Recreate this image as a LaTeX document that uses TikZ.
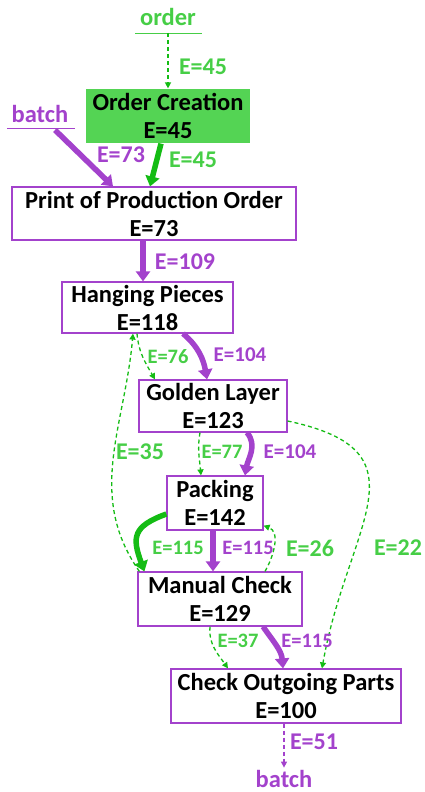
\documentclass[tikz,border=0pt]{standalone}
\usepackage{fontspec}
\setmainfont{Carlito}
\usetikzlibrary{arrows.meta,calc}
\definecolor{procpurple}{RGB}{163,66,204}
\definecolor{flowgreen}{RGB}{20,188,20}
\definecolor{lblgreen}{RGB}{70,206,70}
\definecolor{boxgreen}{RGB}{84,212,84}

\begin{document}
\begin{tikzpicture}[x=1pt, y=1pt,
  activity/.style={draw=procpurple, line width=1.2pt, fill=white, align=center,
    inner sep=0pt, font=\fontsize{24.5}{28}\selectfont\bfseries},
  source/.style={font=\fontsize{24.5}{28}\selectfont\bfseries, inner sep=2pt},
  big/.style={font=\fontsize{24}{28}\selectfont\bfseries},
  mid/.style={font=\fontsize{21}{24}\selectfont\bfseries},
  small/.style={font=\fontsize{20.5}{24}\selectfont\bfseries},
  objflow/.style={line width=5.5pt, -{Triangle[length=10pt,width=14pt]}},
  rareflow/.style={line width=1.3pt, dash pattern=on 4pt off 3pt,
    -{Triangle[length=6pt,width=6pt]}}
]
\useasboundingbox (0,0) rectangle (424,-792);
\node[source, text=lblgreen, anchor=base] (order) at (168,-26) {order};
\node[source, text=procpurple, anchor=base] (batchin) at (40,-122) {batch};
\node[source, text=procpurple, anchor=base] (batchout) at (284,-787) {batch};
\coordinate (orderfoot) at ($(order.base)+(0,-7)$);
\coordinate (batchfoot) at ($(batchin.base)+(15,-8)$);
\draw[lblgreen, line width=0.8pt] ($(order.base)+(-33,-7)$) -- ($(order.base)+(34,-7)$);
\draw[procpurple, line width=0.8pt] ($(batchin.base)+(-33,-6)$) -- ($(batchin.base)+(35,-6)$);

\node[activity, draw=none, fill=boxgreen, minimum width=164, minimum height=54]
  (occ) at (168,-116) {Order Creation\\E=45};
\node[activity, minimum width=284, minimum height=53]
  (ppo) at (154,-213.5) {Print of Production Order\\E=73};
\node[activity, minimum width=171, minimum height=51]
  (hang) at (147.5,-307.5) {Hanging Pieces\\E=118};
\node[activity, minimum width=148, minimum height=52]
  (gold) at (213,-406) {Golden Layer\\E=123};
\node[activity, minimum width=96, minimum height=54]
  (pack) at (215,-503) {Packing\\E=142};
\node[activity, minimum width=164, minimum height=54]
  (manual) at (220,-599) {Manual Check\\E=129};
\node[activity, minimum width=230, minimum height=54]
  (cop) at (286,-696) {Check Outgoing Parts\\E=100};

\draw[rareflow, flowgreen] (orderfoot) -- (occ.north);
\draw[objflow, flowgreen] ([xshift=-7]occ.south) -- ([xshift=-4]ppo.north);
\draw[objflow, procpurple] (batchfoot) -- ([xshift=-41]ppo.north);
\draw[objflow, procpurple] ([xshift=-11]ppo.south) -- ([xshift=-4.5]hang.north);
\draw[objflow, procpurple] ([xshift=35.5]hang.south) to[out=-40, in=100] ([xshift=-6]gold.north);
\draw[rareflow, flowgreen] ([xshift=-10.5]hang.south) to[out=-85, in=120] ([xshift=-58]gold.north);
\draw[objflow, procpurple] ([xshift=34]gold.south) to[out=-50, in=80] ([xshift=30]pack.north);
\draw[rareflow, flowgreen] ([xshift=-13]gold.south) to[out=-100, in=95] ([xshift=-14]pack.north);
\draw[rareflow, flowgreen] ([yshift=-15]gold.east) to[out=-12, in=80, looseness=1.5] ([xshift=36]cop.north);
\draw[rareflow, flowgreen] ([xshift=2]manual.north west) to[out=125, in=-95] ([xshift=-14.5]hang.south);
\draw[objflow, flowgreen] ([yshift=-11]pack.west) to[out=200, in=110, looseness=1.5] ([xshift=7]manual.north west);
\draw[objflow, procpurple] ([xshift=-2]pack.south) -- ([xshift=-7]manual.north);
\draw[rareflow, flowgreen] ([xshift=45]manual.north) to[out=60, in=-20] ([yshift=5]pack.south east);
\draw[rareflow, flowgreen] ([xshift=-10]manual.south) to[out=-95, in=125] ([xshift=-58]cop.north);
\draw[objflow, procpurple] ([xshift=43]manual.south) to[out=-55, in=95] ([xshift=-3]cop.north);
\draw[rareflow, procpurple] ([xshift=-2]cop.south) -- (batchout.north);

\foreach \n/\x/\y/\s/\c/\t in {
  eorder/203/67/big/lblgreen/E=45, eocc/193/160/big/lblgreen/E=45,
  ebatch/121/155/big/procpurple/E=73, eppo/185/262/big/procpurple/E=109,
  ehgg/168/357/small/lblgreen/E=76, ehgp/240/355/mid/procpurple/E=104,
  egpg/222/452/small/lblgreen/E=77, egpp/290/452/mid/procpurple/E=104,
  emh/140/452/big/lblgreen/E=35, egc/398/548/big/lblgreen/E=22,
  epmg/178/548/small/lblgreen/E=115, epmp/248/548/small/procpurple/E=115,
  emp/310/548/big/lblgreen/E=26, emcg/238/641/small/lblgreen/E=37,
  emcp/307/641/small/procpurple/E=115, ecb/314/742/big/procpurple/E=51}
  \node[\s, text=\c] (\n) at (\x,-\y) {\t};
\end{tikzpicture}
\end{document}
